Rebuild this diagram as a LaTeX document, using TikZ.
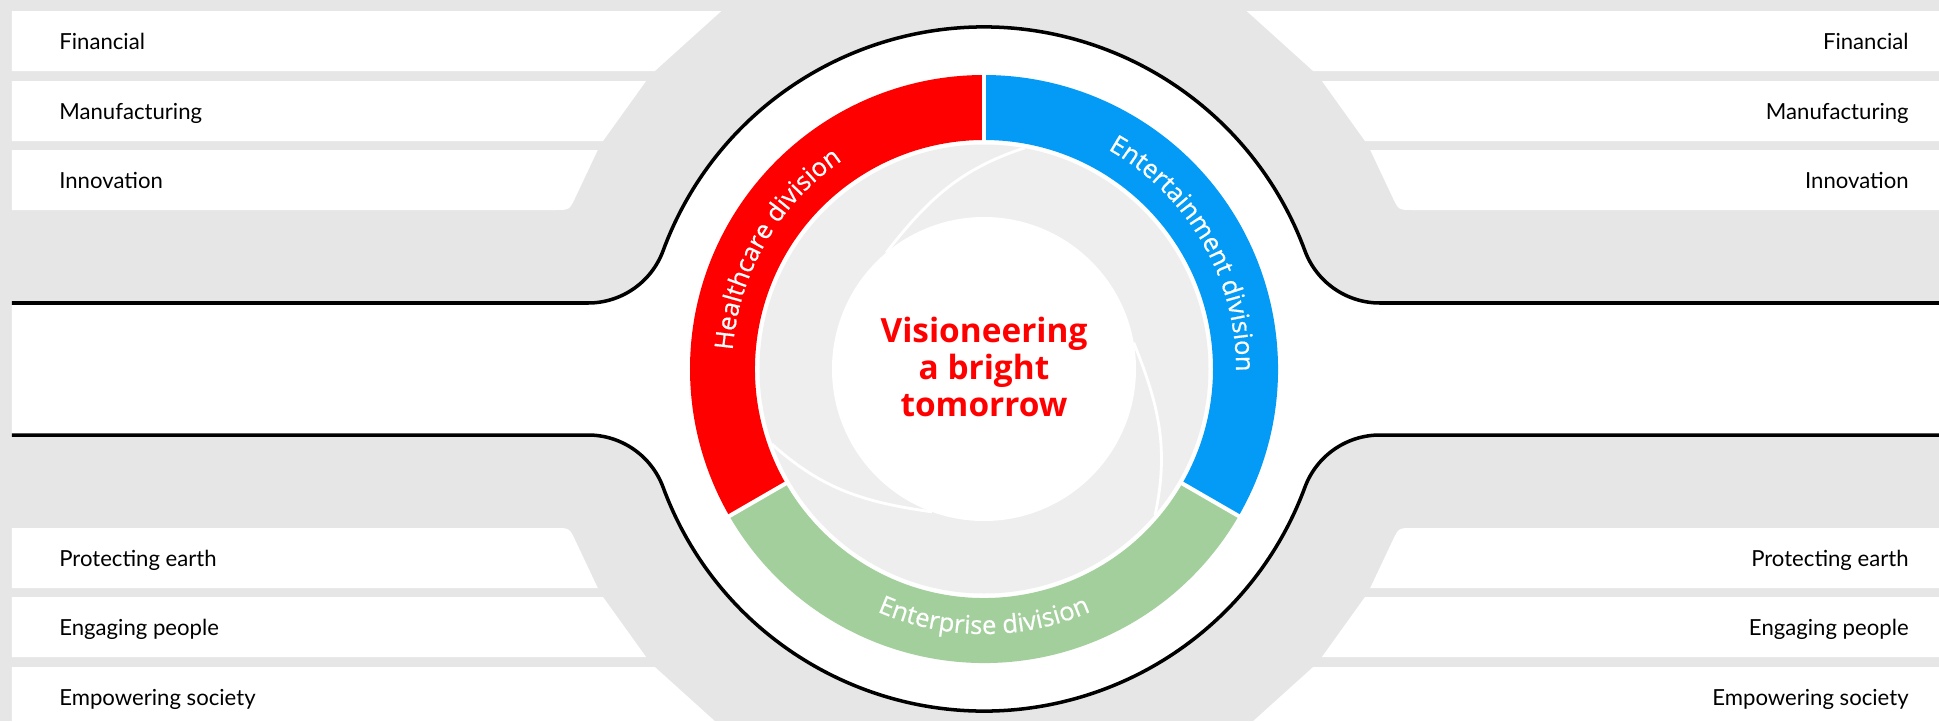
\documentclass[tikz,border=0pt]{standalone}
\usepackage{fontspec}
\setmainfont{Lato}
\newfontfamily\ringfont{Open Sans}[FakeBold=0.6]
\newfontfamily\mottofont{Open Sans}
\usetikzlibrary{calc}
\usetikzlibrary{decorations.text}

\definecolor{bggray}{HTML}{E6E6E6}
\definecolor{diskgray}{HTML}{EEEEEE}
\definecolor{healthred}{HTML}{FF0000}
\definecolor{entertainblue}{HTML}{039BF5}
\definecolor{enterprisegreen}{HTML}{A3CF9C}

\newcommand{\ringlabel}{\ringfont\fontsize{14.5}{17}\selectfont}

\begin{document}
\begin{tikzpicture}[x=0.02cm, y=0.02cm,
    bandlabel/.style={font=\fontsize{12.6}{15}\selectfont, inner sep=0pt},
    outline/.style={line width=2pt, black},
    blade/.style={white, line width=1.6pt},
    divider/.style={white, line width=2.3pt},
    ringtext/.style={decorate, decoration={text along path, text align=center,
        text color=white, text={|\ringlabel|#1}}}]

      \useasboundingbox (-984,-352) rectangle (955,369);
      \fill[bggray] (-984,-352) rectangle (955,369);

      % white bands, cut off by the big circle
      \foreach \sx in {-1,1}{
        \foreach \sy in {-1,1}{
          \pgfmathsetmacro{\xe}{\sx<0 ? -972 : 955}
          \foreach \lo/\hi in {228/288, 298/358}
            \fill[white] (\xe,\sy*\lo) -- ({\sx*444*cos(asin(\lo/444))},\sy*\lo)
              -- ({\sx*444*cos(asin(\hi/444))},\sy*\hi) -- (\xe,\sy*\hi) -- cycle;
          \coordinate (b) at ({\sx*444*cos(asin(159/444))},\sy*159);
          \coordinate (t) at ({\sx*444*cos(asin(219/444))},\sy*219);
          \fill[white] (\xe,\sy*159) -- ($(b)!2.8mm!(\xe,\sy*159)$)
            .. controls (b) .. ($(b)!2.8mm!(t)$) -- (t) -- (\xe,\sy*219) -- cycle;
        }
      }

      \pgfmathsetmacro{\fa}{asin(146/422)}
      \pgfmathsetmacro{\fx}{422*cos(\fa)}

      \fill[white] (-972,66) -- (-\fx,66) arc[start angle=270, end angle=360-\fa, radius=80]
        arc[start angle=180-\fa, end angle=\fa, radius=342]
        arc[start angle=180+\fa, end angle=270, radius=80] -- (955,66)
        -- (955,-66) -- (\fx,-66) arc[start angle=90, end angle=180-\fa, radius=80]
        arc[start angle=-\fa, end angle=-180+\fa, radius=342]
        arc[start angle=\fa, end angle=90, radius=80] -- (-972,-66) -- cycle;

      \draw[outline] (-972,66) -- (-\fx,66) arc[start angle=270, end angle=360-\fa, radius=80]
        arc[start angle=180-\fa, end angle=\fa, radius=342]
        arc[start angle=180+\fa, end angle=270, radius=80] -- (955,66);
      \draw[outline] (-972,-66) -- (-\fx,-66) arc[start angle=90, end angle=\fa, radius=80]
        arc[start angle=180+\fa, end angle=360-\fa, radius=342]
        arc[start angle=180-\fa, end angle=90, radius=80] -- (955,-66);

      % the three divisions
      \foreach \a/\c in {90/healthred, 210/enterprisegreen, -30/entertainblue}
        \fill[\c] (\a:294) arc[start angle=\a, end angle=\a+120, radius=294]
          -- ({\a+120}:229) arc[start angle=\a+120, end angle=\a, radius=229] -- cycle;
      \foreach \a in {90,210,330}
        \draw[divider] (\a:225) -- (\a:297);

      \fill[diskgray] (0,0) circle[radius=224.5];
      \foreach \k in {0,120,240}
        \draw[blade] ({79.5+\k}:225) to[out={198+\k}, in={52+\k}] ({130+\k}:152);
      \fill[white] (0,0) circle[radius=152];

      \path[ringtext=Healthcare division] (210:252) arc[start angle=210, end angle=90, radius=252];
      \path[ringtext=Entertainment division] (90:252) arc[start angle=90, end angle=-30, radius=252];
      \path[ringtext=Enterprise division] (210:265) arc[start angle=210, end angle=330, radius=265];

      \node[font=\mottofont\bfseries\fontsize{19}{21.3}\selectfont, text=healthred,
        align=center, inner sep=0pt] (motto) at (0,2) {Visioneering\\a bright\\tomorrow};

      \foreach \txt/\y/\nm in {Financial/328/fin, Manufacturing/258/manu, Innovation/189/inno,
          Protecting earth/-189/earth, Engaging people/-258/people, Empowering society/-328/society}{
        \node[bandlabel, anchor=base west] (\nm-l) at (-925,\y-8) {\txt};
        \node[bandlabel, anchor=base east] (\nm-r) at (925,\y-8) {\txt};
      }
    \end{tikzpicture}
\end{document}
